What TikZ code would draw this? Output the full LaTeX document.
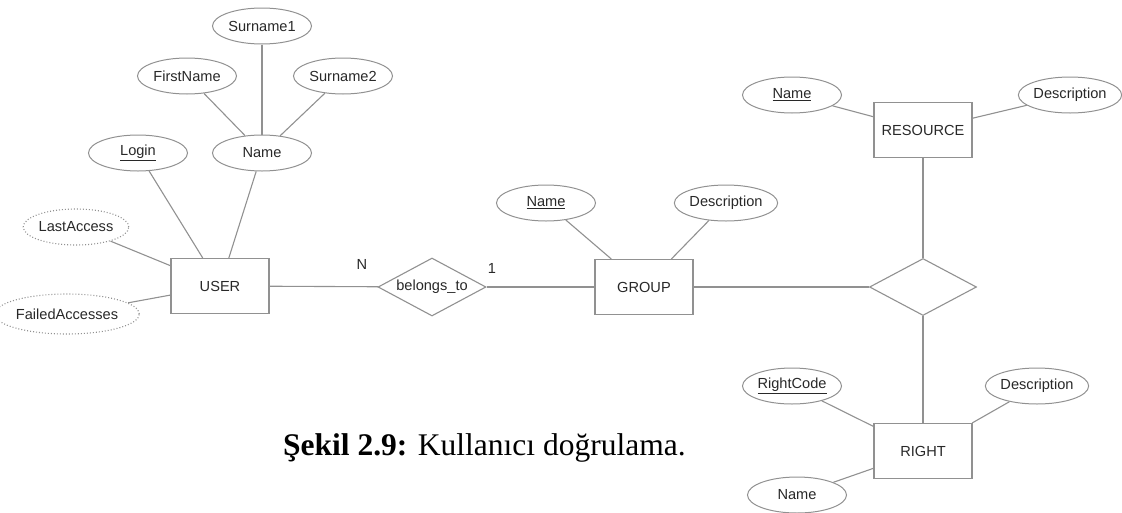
\documentclass[tikz,border=0pt]{standalone}
\usepackage{fontspec}
\setmainfont{Liberation Serif}
\newfontfamily\diagfont{Liberation Sans}
\usetikzlibrary{shapes.geometric}
\definecolor{edgegray}{RGB}{145,145,145}
\definecolor{textgray}{RGB}{40,40,40}
\begin{document}
\begin{tikzpicture}[x=1pt,y=-1pt,
  every node/.style={font=\diagfont\fontsize{14.6}{16}\selectfont, text=textgray},
  attr/.style={ellipse, draw=edgegray, line width=1pt, minimum width=99pt, minimum height=36pt, inner sep=0pt},
  derived/.style={attr, dotted, line width=1.1pt},
  entity/.style={rectangle, draw=edgegray, line width=1.1pt, minimum width=98pt, minimum height=55pt, inner sep=0pt},
  relation/.style={diamond, draw=edgegray, line width=1.1pt, aspect=1.85, minimum width=108pt, minimum height=58pt, inner sep=0pt},
  link/.style={draw=edgegray, line width=1.1pt}]
\useasboundingbox (0,0) rectangle (1122,512);

% USER and its attributes
\node[entity] (user) at (220,286) {USER};
\node[attr] (login) at (138,153) {\underline{Login}};
\node[attr] (uname) at (262,153) {Name};
\node[attr] (first) at (187,76) {FirstName};
\node[attr] (sur1) at (262,26) {Surname1};
\node[attr] (sur2) at (343,76) {Surname2};
\node[derived] (last) at (76,227) {LastAccess};
\node[derived, minimum width=121pt, minimum height=40pt] (failed) at (67,314) {FailedAccesses};

% belongs_to relationship
\node[relation] (belongs) at (432,287) {belongs\_to};
\node (card n) at (362,264) {N};
\node (card one) at (492,268) {1};

% GROUP and its attributes
\node[entity] (group) at (644,287) {GROUP};
\node[attr] (gname) at (546,203) {\underline{Name}};
\node[attr] (gdesc) at (726,203) {Description};

% ternary relationship
\node[relation, minimum width=107pt, minimum height=57pt] (ternary) at (923,287) {};

% RESOURCE and its attributes
\node[entity] (resource) at (923,130) {RESOURCE};
\node[attr] (rname) at (792,95) {\underline{Name}};
\node[attr] (rdesc) at (1070,95) {Description};

% RIGHT and its attributes
\node[entity] (right) at (923,451) {RIGHT};
\node[attr] (rcode) at (792,386) {\underline{RightCode}};
\node[attr] (rtdesc) at (1037,386) {Description};
\node[attr] (rtname) at (797,495) {Name};

% connectors
\draw[link] (sur1) -- (uname);
\draw[link] (first) -- (uname);
\draw[link] (sur2) -- (uname);
\draw[link] (login) -- (user);
\draw[link] (uname) -- (user);
\draw[link] (last) -- (user);
\draw[link] (failed) -- (user);
\draw[link] (user) -- (belongs);
\draw[link] (belongs) -- (group);
\draw[link] (gname) -- (group);
\draw[link] (gdesc) -- (group);
\draw[link] (group) -- (ternary);
\draw[link] (resource) -- (ternary);
\draw[link] (rname) -- (resource);
\draw[link] (rdesc) -- (resource);
\draw[link] (ternary) -- (right);
\draw[link] (rcode) -- (right);
\draw[link] (rtdesc) -- (right);
\draw[link] (rtname) -- (right);

% caption
\node[font=\rmfamily\fontsize{31.5}{35}\selectfont, text=black, anchor=base west, inner sep=0pt] (caption) at (283,455) {\textbf{Şekil 2.9:} Kullanıcı doğrulama.};
\end{tikzpicture}
\end{document}
